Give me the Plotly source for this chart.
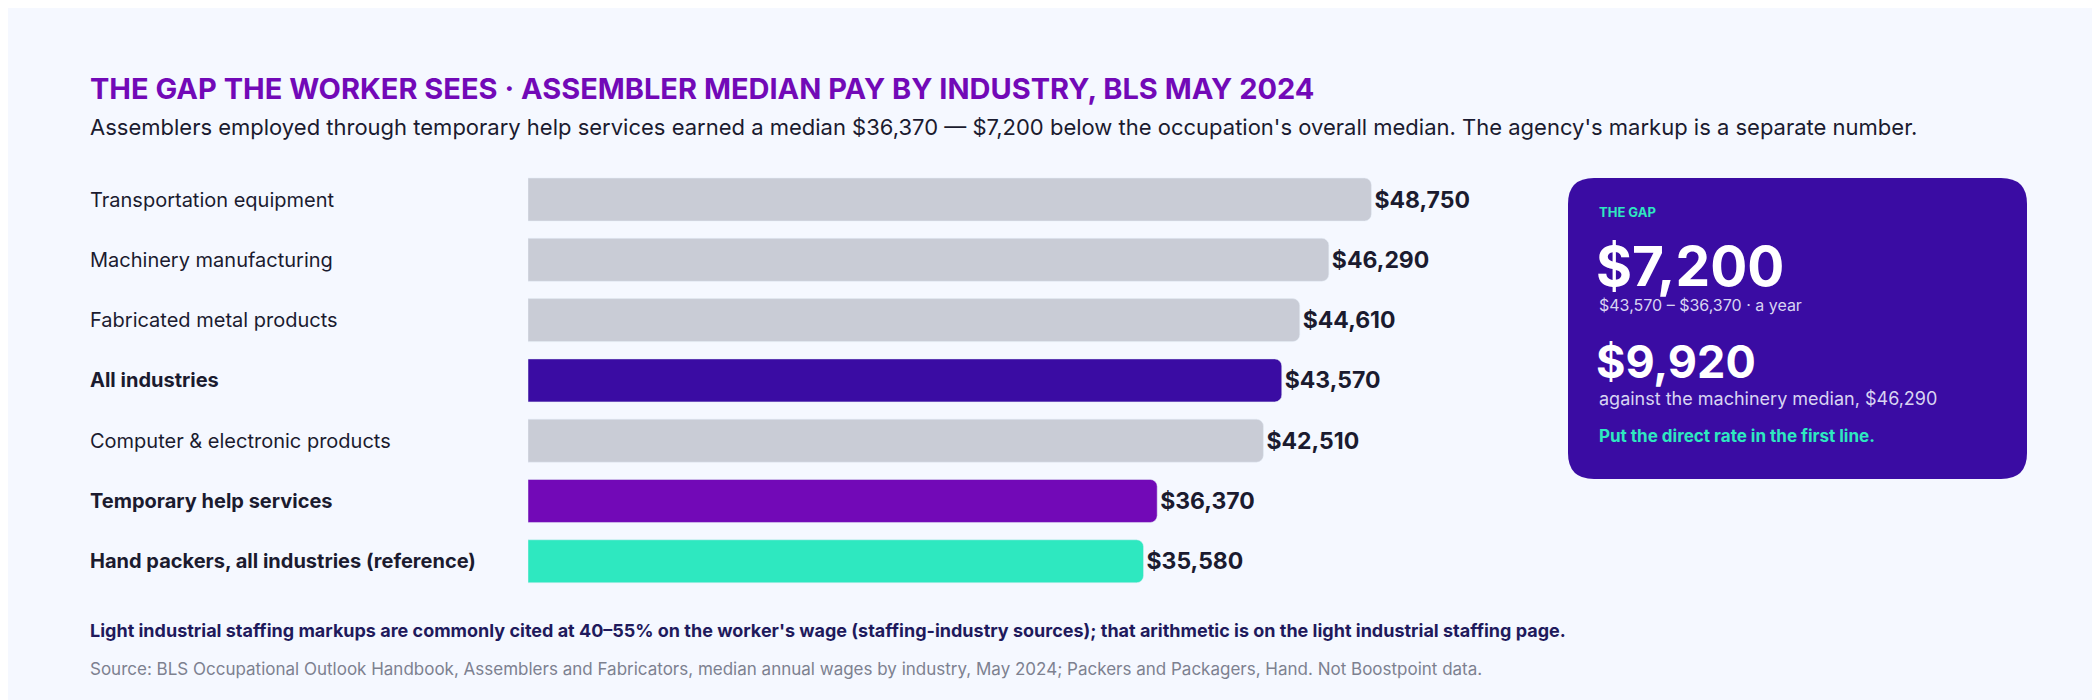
import plotly.graph_objects as go

W, H = 2100, 700
categories = ["Transportation equipment", "Machinery manufacturing", "Fabricated metal products",
              "All industries", "Computer & electronic products", "Temporary help services",
              "Hand packers, all industries (reference)"]
values = [48750, 46290, 44610, 43570, 42510, 36370, 35580]
bold = [False, False, False, True, False, True, True]
colors = ["#c9ccd6", "#c9ccd6", "#c9ccd6", "#3a0ca3", "#c9ccd6", "#7209b7", "#2ee8c0"]

FONT = "Inter, Lato, sans-serif"
px = lambda x: x / W
py = lambda y: 1 - y / H

fig = go.Figure(go.Bar(
    x=values, y=categories, orientation="h", marker=dict(color=colors, cornerradius=7),
    width=0.713, text=[f"<b>${v:,}</b>" for v in values], textposition="outside",
    textfont=dict(size=23, color="#1b1b2f", family=FONT), cliponaxis=False, hoverinfo="skip"))

fig.update_layout(
    width=W, height=H, margin=dict(l=0, r=0, t=0, b=0),
    paper_bgcolor="#f5f8ff", plot_bgcolor="rgba(0,0,0,0)", showlegend=False,
    font=dict(family=FONT),
    xaxis=dict(range=[0, 60000], domain=[px(520), px(1558)], visible=False),
    yaxis=dict(autorange=False, range=[6.5, -0.5], domain=[py(583.4), py(161.4)],
               visible=False, type="category", categoryorder="array", categoryarray=categories),
)

ann = []
for c, b in zip(categories, bold):
    ann.append(dict(x=px(80), xref="paper", y=c, yref="y", xanchor="left", showarrow=False,
                    text=f"<b>{c}</b>" if b else c, font=dict(size=20, color="#1b1b2f")))

def t(x, y, text, size, color, anchor="middle"):
    ann.append(dict(x=px(x), y=py(y), xref="paper", yref="paper", xanchor="left", yanchor=anchor,
                    showarrow=False, text=text, font=dict(size=size, color=color, family=FONT)))

t(80, 80, "<b>THE GAP THE WORKER SEES · ASSEMBLER MEDIAN PAY BY INDUSTRY, BLS MAY 2024</b>", 29, "#7209b7")
t(80, 119, "Assemblers employed through temporary help services earned a median $36,370 — $7,200 below the occupation's overall median. The agency's markup is a separate number.", 22, "#1b1b2f")
t(80, 622, "<b>Light industrial staffing markups are commonly cited at 40–55% on the worker's wage (staffing-industry sources); that arithmetic is on the light industrial staffing page.</b>", 18, "#1f1a5c")
t(80, 661, "Source: BLS Occupational Outlook Handbook, Assemblers and Fabricators, median annual wages by industry, May 2024; Packers and Packagers, Hand. Not Boostpoint data.", 17, "#7d8190")

# card
x0, y0, x1, y1, r = 1560, 170, 2019, 471, 26
X0, X1 = px(x0), px(x1)
def pth():
    # paper coords path with rounded corners (approx radius in px converted)
    rx, ry = r / W, r / H
    Y0, Y1 = py(y0), py(y1)
    return (f"M {X0+rx},{Y0} L {X1-rx},{Y0} Q {X1},{Y0} {X1},{Y0-ry} L {X1},{Y1+ry} "
            f"Q {X1},{Y1} {X1-rx},{Y1} L {X0+rx},{Y1} Q {X0},{Y1} {X0},{Y1+ry} "
            f"L {X0},{Y0-ry} Q {X0},{Y0} {X0+rx},{Y0} Z")
fig.add_shape(type="path", xref="paper", yref="paper", path=pth(), fillcolor="#3a0ca3", line=dict(width=0), layer="below")

t(1589, 204, "<b>THE GAP</b>", 13, "#2ee8c0")
t(1586, 258, "<b>$7,200</b>", 55, "#ffffff")
t(1589, 297, "$43,570 – $36,370 · a year", 16, "#d8d4f2")
t(1586, 353, "<b>$9,920</b>", 45, "#ffffff")
t(1589, 390, "against the machinery median, $46,290", 18, "#d8d4f2")
t(1589, 428, "<b>Put the direct rate in the first line.</b>", 17, "#2ee8c0")

fig.update_layout(annotations=ann)
fig.write_html("out.html")
